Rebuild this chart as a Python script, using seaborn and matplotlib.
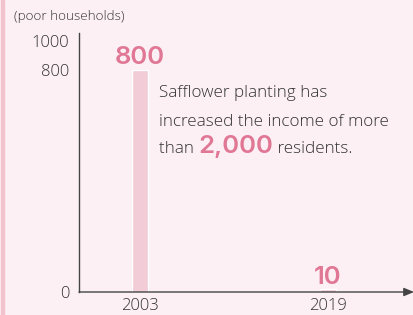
import matplotlib
matplotlib.use("Agg")
import matplotlib.pyplot as plt
import seaborn as sns
import pandas as pd
from matplotlib.patches import Rectangle

# data
years = ["2003", "2019"]
households = [800, 10]
tick_labels = ["0", "800", "1000"]
unit_label = "(poor households)"
note_lines = ["Safflower planting has", "increased the income of more"]
note_last = ["than ", "2,000", " residents."]

BG = "#fcf0f4"
BAR = "#f2ccd6"
PINK = "#e07895"
TEXT = "#333333"
NUM_FONT = ["Inter", "DejaVu Sans"]

sns.set_style("white")
plt.rcParams["font.family"] = ["Open Sans", "DejaVu Sans"]

W, H = 414, 315
fig = plt.figure(figsize=(W / 100, H / 100), dpi=100, facecolor=BG)

# axes placed in pixel terms
left, right, bottom, top = 79, 414, 292, 33
ax = fig.add_axes([left / W, (H - bottom) / H, (right - left) / W, (bottom - top) / H])
ax.set_facecolor(BG)

df = pd.DataFrame({"year": years, "value": households})
sns.barplot(data=df, x="year", y="value", color=BAR, width=0.085,
            saturation=1, ax=ax)

ax.set_xlim(-0.322, 1.46)
ax.set_ylim(0, 933)
ax.set_yticks([0, 800, 905])
ax.set_yticklabels(tick_labels)
ax.set_xlabel("")
ax.set_ylabel("")
ax.tick_params(axis="y", length=0, pad=7, labelsize=12, labelcolor=TEXT)
ax.tick_params(axis="x", length=0, pad=4, labelsize=12, labelcolor=TEXT)
for lab in ax.get_xticklabels() + ax.get_yticklabels():
    lab.set_fontweight(300)

for s in ["top", "right", "bottom"]:
    ax.spines[s].set_visible(False)
ax.spines["left"].set_color("#444444")
ax.spines["left"].set_linewidth(1)

# x axis with arrow head
ax.annotate("", xy=(1.0, 0), xytext=(0, 0), xycoords="axes fraction",
            arrowprops=dict(arrowstyle="-|>,head_length=0.6,head_width=0.25",
                            color="#444444", lw=1, shrinkA=0, shrinkB=0),
            annotation_clip=False)

# value labels
for i, v in enumerate(households):
    ax.annotate(str(v), xy=(i, v), xytext=(0, 4), textcoords="offset points",
                ha="center", va="baseline", fontsize=18.5, fontweight=600,
                family=NUM_FONT, color=PINK)

# unit label
fig.text(14 / W, (H - 20) / H, unit_label, fontsize=9.6, color=TEXT,
         fontweight=300)

# left pink stripe
fig.patches.append(Rectangle((1 / W, 0), 3 / W, 1, transform=fig.transFigure,
                             color="#f1c3cf", zorder=0))

# note text
x0 = 159
baselines = [97, 126, 153]
for line, b in zip(note_lines, baselines):
    fig.text(x0 / W, (H - b) / H, line, fontsize=12.3, color=TEXT,
             va="baseline", fontweight=300)

fig.canvas.draw()
renderer = fig.canvas.get_renderer()
x = x0
styles = [dict(fontsize=12.3, color=TEXT, fontweight=300),
          dict(fontsize=18.5, color=PINK, fontweight=600, family=NUM_FONT),
          dict(fontsize=12.3, color=TEXT, fontweight=300)]
for part, st in zip(note_last, styles):
    t = fig.text(x / W, (H - baselines[2]) / H, part, va="baseline", **st)
    x = t.get_window_extent(renderer).x1

fig.savefig("out.png", dpi=100, facecolor=BG)
